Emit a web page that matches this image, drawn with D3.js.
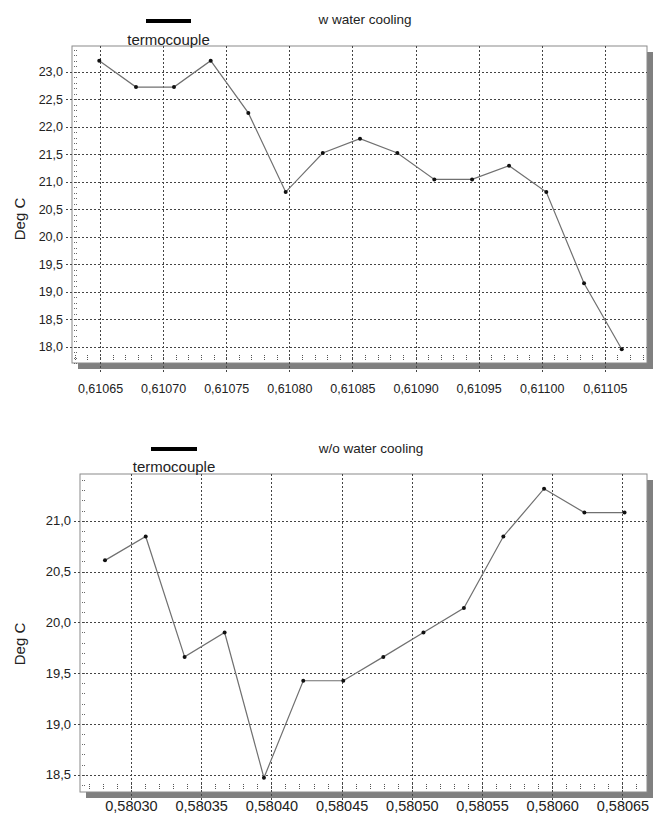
<!DOCTYPE html>
<html>
<head>
<meta charset="utf-8">
<script src="https://cdn.jsdelivr.net/npm/d3@7"></script>
<style>
  body { margin: 0; background: #fff; }
  svg { display: block; font-family: 'Liberation Sans', Arial, sans-serif; }
</style>
</head>
<body>
<script>
// values
const topX = [0.6106494, 0.6106785, 0.6107086, 0.6107377, 0.6107675, 0.6107971, 0.6108265, 0.610856,
  0.6108856, 0.6109149, 0.6109448, 0.6109741, 0.6110036, 0.6110335, 0.6110634]
const topY = [23.2, 22.72, 22.72, 23.2, 22.25, 20.81, 21.52, 21.78, 21.52, 21.04, 21.04, 21.29, 20.81, 19.15, 17.95]
const topXTicks = [0.61065, 0.6107, 0.61075, 0.6108, 0.61085, 0.6109, 0.61095, 0.611, 0.61105]
const topYTicks = [18, 18.5, 19, 19.5, 20, 20.5, 21, 21.5, 22, 22.5, 23]

const bottomX = [0.5802815, 0.5803105, 0.5803382, 0.5803667, 0.5803947, 0.5804227, 0.5804512, 0.5804797,
  0.5805083, 0.5805371, 0.5805652, 0.5805942, 0.5806229, 0.5806515]
const bottomY = [20.61, 20.845, 19.66, 19.9, 18.47, 19.425, 19.425, 19.66, 19.9, 20.14, 20.845, 21.315, 21.08, 21.08]
const bottomXTicks = [0.5803, 0.58035, 0.5804, 0.58045, 0.5805, 0.58055, 0.5806, 0.58065]
const bottomYTicks = [18.5, 19, 19.5, 20, 20.5, 21]

const width = 655
const height = 824

const locale = d3.formatLocale({ decimal: ',', thousands: '.', grouping: [3], currency: ['', ''] })

const svg = d3.select('body').append('svg')
  .attr('width', width)
  .attr('height', height)

function drawChart({ xs, ys, xTicks, yTicks, xDomain, yDomain, box, title, legend, labelY, xFont, yFont, xLabelY }) {
  const g = svg.append('g')
  const x = d3.scaleLinear().domain(xDomain).range([box.left, box.right])
  const y = d3.scaleLinear().domain(yDomain).range([box.bottom, box.top])

  // drop shadow
  g.append('rect')
    .attr('x', box.left + 6).attr('y', box.bottom)
    .attr('width', box.right - box.left).attr('height', 6)
    .attr('fill', '#808080')
  g.append('rect')
    .attr('x', box.right).attr('y', box.top + 6)
    .attr('width', 6).attr('height', box.bottom - box.top)
    .attr('fill', '#808080')

  g.append('rect')
    .attr('x', box.left).attr('y', box.top)
    .attr('width', box.right - box.left).attr('height', box.bottom - box.top)
    .attr('fill', '#fff')
    .attr('stroke', '#8a8a8a')

  // minor ticks (left edge every 0.1, bottom edge every 0.00001)
  const yMinor = d3.range(Math.ceil(yDomain[0] * 10), Math.floor(yDomain[1] * 10) + 1).map(d => d / 10)
  g.append('g').selectAll('line')
    .data(yMinor)
    .join('line')
    .attr('x1', box.left + 2).attr('x2', box.left + 6)
    .attr('y1', d => Math.round(y(d)) + 0.5).attr('y2', d => Math.round(y(d)) + 0.5)
    .attr('stroke', '#666')
    .attr('stroke-dasharray', '1,1')
  const xMinor = d3.range(Math.ceil(xDomain[0] * 1e5), Math.floor(xDomain[1] * 1e5) + 1).map(d => d / 1e5)
  g.append('g').selectAll('line')
    .data(xMinor)
    .join('line')
    .attr('x1', d => Math.round(x(d)) + 0.5).attr('x2', d => Math.round(x(d)) + 0.5)
    .attr('y1', box.bottom - 8).attr('y2', box.bottom - 2)
    .attr('stroke', '#555')
    .attr('stroke-dasharray', '1,1')

  // grid lines, they poke out of the frame a little
  g.append('g').selectAll('line')
    .data(yTicks)
    .join('line')
    .attr('x1', box.left - 6).attr('x2', box.right)
    .attr('y1', d => Math.round(y(d)) + 0.5).attr('y2', d => Math.round(y(d)) + 0.5)
    .attr('stroke', '#444')
    .attr('stroke-dasharray', '2,2')
  g.append('g').selectAll('line')
    .data(xTicks)
    .join('line')
    .attr('x1', d => Math.round(x(d)) + 0.5).attr('x2', d => Math.round(x(d)) + 0.5)
    .attr('y1', box.top).attr('y2', box.bottom + 11)
    .attr('stroke', '#444')
    .attr('stroke-dasharray', '2,2')

  // axes just for the labels
  g.append('g')
    .attr('transform', `translate(${box.left},0)`)
    .call(d3.axisLeft(y).tickValues(yTicks).tickFormat(locale.format('.1f')).tickSize(0).tickPadding(9))
    .call(a => a.select('.domain').remove())
    .call(a => a.selectAll('text').attr('font-size', yFont).attr('fill', '#222').attr('font-family', null))
  g.append('g')
    .attr('transform', `translate(0,${xLabelY})`)
    .call(d3.axisBottom(x).tickValues(xTicks).tickFormat(locale.format('.5f')).tickSize(0).tickPadding(0))
    .call(a => a.select('.domain').remove())
    .call(a => a.selectAll('text').attr('font-size', xFont).attr('fill', '#222').attr('font-family', null))

  // the series
  const line = d3.line().x(d => x(d[0])).y(d => y(d[1]))
  const pts = d3.zip(xs, ys)
  g.append('path')
    .datum(pts)
    .attr('d', line)
    .attr('fill', 'none')
    .attr('stroke', '#707070')
    .attr('stroke-width', 1.2)
  g.append('g').selectAll('circle')
    .data(pts)
    .join('circle')
    .attr('cx', d => x(d[0]))
    .attr('cy', d => y(d[1]))
    .attr('r', 2)
    .attr('fill', '#111')

  // titles and legend
  g.append('text')
    .attr('x', title.x).attr('y', title.y)
    .attr('text-anchor', 'middle')
    .attr('font-size', 13.5)
    .attr('fill', '#222')
    .text(title.text)
  g.append('line')
    .attr('x1', legend.x1).attr('x2', legend.x2)
    .attr('y1', legend.y).attr('y2', legend.y)
    .attr('stroke', '#000')
    .attr('stroke-width', 4)
  g.append('text')
    .attr('x', (legend.x1 + legend.x2) / 2).attr('y', legend.textY)
    .attr('text-anchor', 'middle')
    .attr('font-size', 15)
    .attr('fill', '#222')
    .text('termocouple')
  g.append('text')
    .attr('transform', `translate(${labelY.x},${labelY.y}) rotate(-90)`)
    .attr('text-anchor', 'middle')
    .attr('font-size', 15)
    .attr('fill', '#222')
    .text('Deg C')
}

drawChart({
  xs: topX, ys: topY, xTicks: topXTicks, yTicks: topYTicks,
  xDomain: [0.6106278, 0.6110834], yDomain: [17.7, 23.467],
  box: { left: 72, top: 46, right: 647, bottom: 363 },
  title: { text: 'w water cooling', x: 365, y: 24 },
  legend: { x1: 146, x2: 191, y: 21, textY: 45 },
  labelY: { x: 25, y: 219 },
  xFont: 12.5, yFont: 12.5, xLabelY: 384,
})

drawChart({
  xs: bottomX, ys: bottomY, xTicks: bottomXTicks, yTicks: bottomYTicks,
  xDomain: [0.5802637, 0.5806675], yDomain: [18.33, 21.46],
  box: { left: 80, top: 474, right: 647, bottom: 792 },
  title: { text: 'w/o water cooling', x: 371, y: 453 },
  legend: { x1: 151, x2: 197, y: 449, textY: 472 },
  labelY: { x: 25, y: 644 },
  xFont: 14.5, yFont: 13, xLabelY: 801,
})
</script>
</body>
</html>
